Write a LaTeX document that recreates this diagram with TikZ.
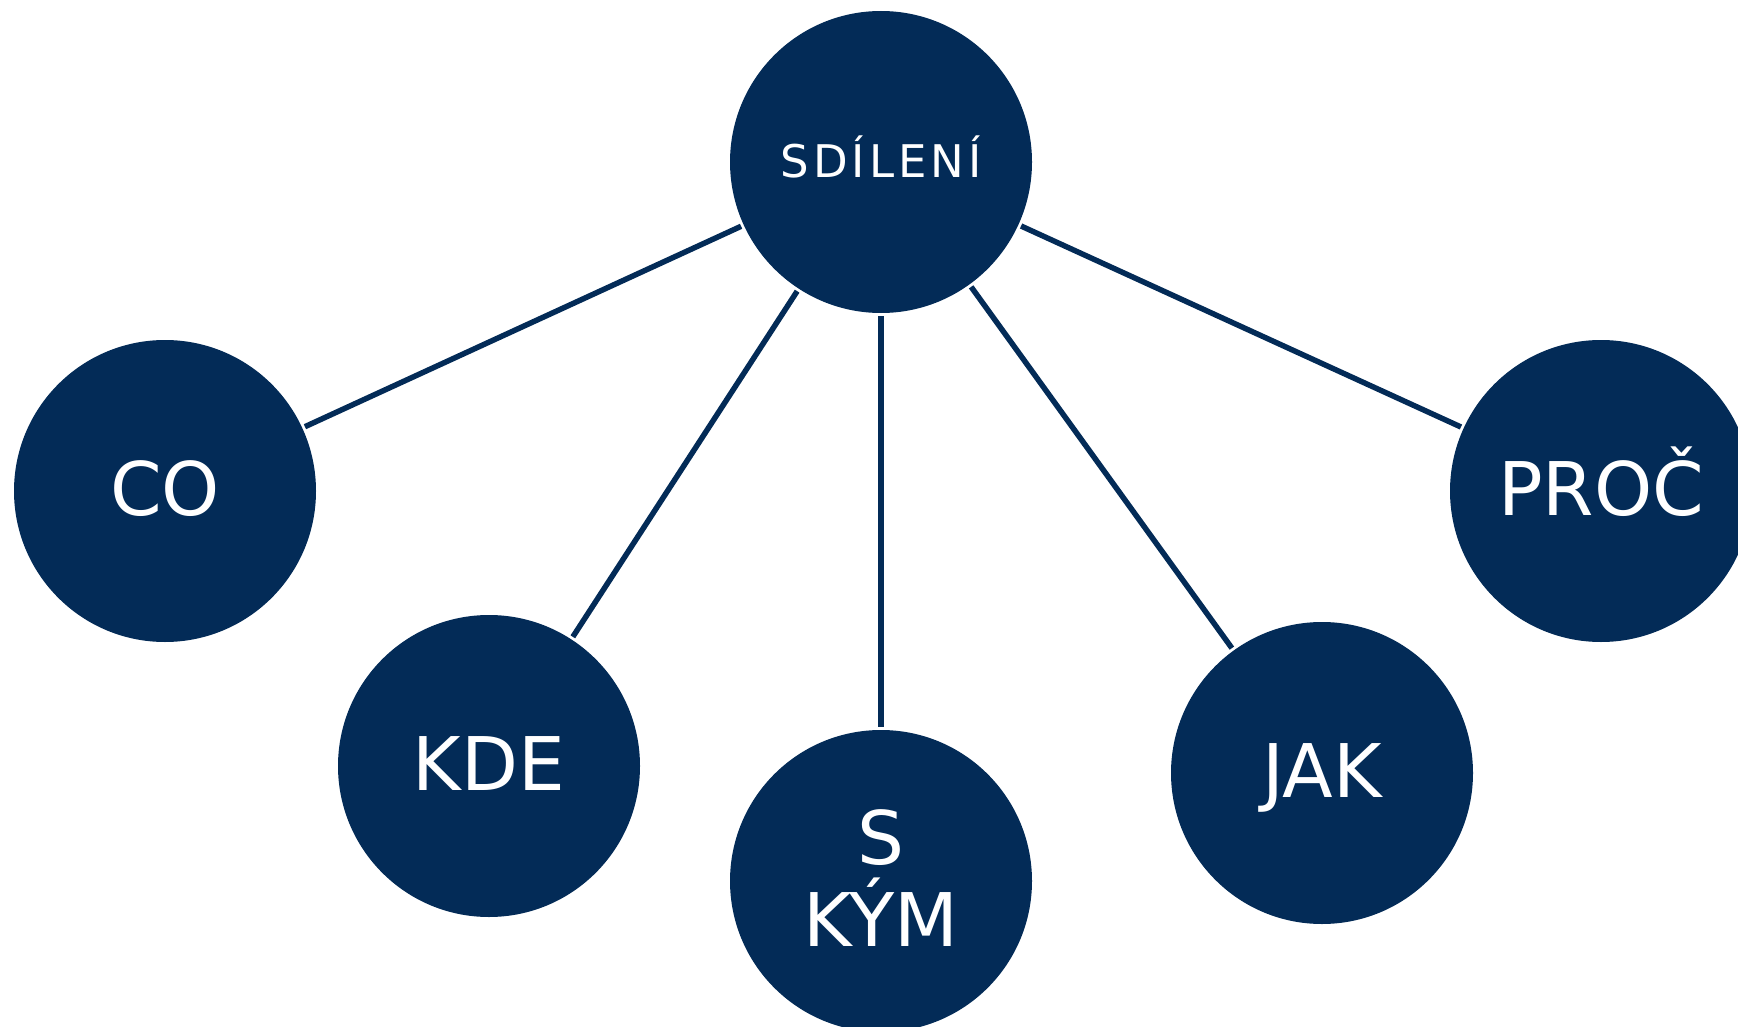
\documentclass[tikz,border=0pt]{standalone}
\usepackage{fontspec}
\setmainfont{DejaVu Sans}
\definecolor{navy}{RGB}{3,43,87}
\newcommand{\lsp}{\kern4pt\relax}
\begin{document}
\begin{tikzpicture}[x=1pt,y=-1pt,
  bubble/.style={circle,fill=navy,draw=none,minimum size=302pt,inner sep=0pt,outer sep=0pt,
    text=white,align=center,font=\fontsize{74}{82}\selectfont,
    text height=53.9pt,text depth=5pt},
  hub/.style={bubble,font=\fontsize{45}{54}\selectfont,text height=32.8pt,text depth=2pt},
  twoline/.style={bubble,text height=135.9pt,text depth=5pt},
  link/.style={draw=navy,line width=5.5pt,shorten <=3pt,shorten >=3pt}]
\useasboundingbox (0,0) rectangle (1738,1027);
\node[hub] (sd) at (881,162) {S\lsp D\lsp Í\lsp L\lsp E\lsp N\lsp Í};
\node[bubble] (co) at (165,491) {CO};
\node[bubble] (kde) at (489,766) {KDE};
\node[twoline] (skym) at (881,881) {S\\KÝM};
\node[bubble] (jak) at (1322,773) {JAK};
\node[bubble] (proc) at (1601,491) {PROČ};
\draw[link] (sd) -- (co);
\draw[link] (sd) -- (kde);
\draw[link] (sd) -- (skym);
\draw[link] (sd) -- (jak);
\draw[link] (sd) -- (proc);
\end{tikzpicture}
\end{document}
